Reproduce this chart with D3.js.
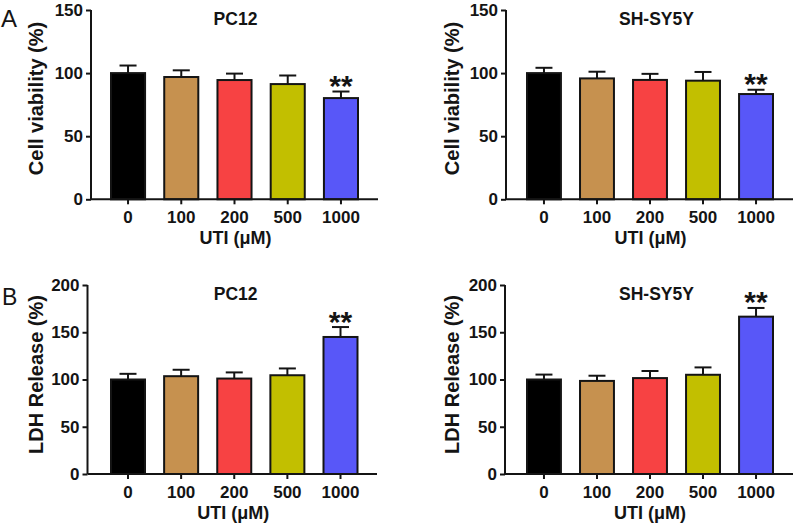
<!DOCTYPE html>
<html>
<head>
<meta charset="utf-8">
<script src="https://cdn.jsdelivr.net/npm/d3@7"></script>
<style>
  html, body { margin: 0; padding: 0; background: #fff; }
  svg { display: block; font-family: "Liberation Sans", Arial, Helvetica, sans-serif; }
</style>
</head>
<body>
<svg id="chart" width="794" height="524"></svg>
<script>
// ---- data ----
const categories = ["0", "100", "200", "500", "1000"];
const barColors = ["#000000", "#C6914F", "#F74243", "#C2BF00", "#5857F8"];

const pc12Viability    = [100, 96.9, 94.5, 91.3, 80.2];
const pc12ViabilityErr = [6.0, 5.3, 5.1, 6.8, 5.2];
const shViability      = [100, 95.8, 94.6, 94.0, 83.4];
const shViabilityErr   = [4.2, 5.3, 4.8, 6.9, 3.4];

const pc12LDH    = [100, 103.5, 101, 104.5, 145];
const pc12LDHErr = [6.0, 6.8, 6.5, 7.2, 10.5];
const shLDH      = [100, 98.5, 101.5, 105, 166.5];
const shLDHErr   = [5.2, 5.5, 7.5, 7.8, 9.2];

const sigMarks = ["", "", "", "", "**"];

const yTicksViability = [0, 50, 100, 150];
const yTicksLDH = [0, 50, 100, 150, 200];

const xTitle = "UTI (μM)";
const yTitleViability = "Cell viability (%)";
const yTitleLDH = "LDH Release (%)";

// ---- layout ----
const svg = d3.select("#chart");
const ink = "#141414";

const panels = [
  { title: "PC12", values: pc12Viability, errs: pc12ViabilityErr, yTicks: yTicksViability, yTitle: yTitleViability,
    axisX: 91, axisEnd: 378, barRange: [111, 358], yTop: 10, yBottom: 199.3, titleX: 235.5, titleY: 25,
    yTitleX: 43, yTitleY: 98.5, xLabY: 223.3, xTitleY: 244 },
  { title: "SH-SY5Y", values: shViability, errs: shViabilityErr, yTicks: yTicksViability, yTitle: yTitleViability,
    axisX: 506, axisEnd: 793, barRange: [527, 773], yTop: 10, yBottom: 199.3, titleX: 656.5, titleY: 25,
    yTitleX: 459, yTitleY: 98.5, xLabY: 223.3, xTitleY: 244 },
  { title: "PC12", values: pc12LDH, errs: pc12LDHErr, yTicks: yTicksLDH, yTitle: yTitleLDH,
    axisX: 87.5, axisEnd: 377, barRange: [111, 357.5], yTop: 285, yBottom: 474, titleX: 235.7, titleY: 300,
    yTitleX: 43, yTitleY: 374.5, xLabY: 498.3, xTitleY: 518.5 },
  { title: "SH-SY5Y", values: shLDH, errs: shLDHErr, yTicks: yTicksLDH, yTitle: yTitleLDH,
    axisX: 505, axisEnd: 793, barRange: [527, 773], yTop: 285, yBottom: 474, titleX: 656.5, titleY: 300,
    yTitleX: 459, yTitleY: 374.5, xLabY: 498.3, xTitleY: 518.5 }
];

panels.forEach(p => {
  const g = svg.append("g");
  const yMax = p.yTicks[p.yTicks.length - 1];
  const y = d3.scaleLinear().domain([0, yMax]).range([p.yBottom, p.yTop]);
  const x = d3.scaleBand().domain(categories).range(p.barRange).paddingInner(0.36).paddingOuter(0);
  const bw = x.bandwidth();

  // bars
  g.selectAll("rect.bar").data(p.values).join("rect")
    .attr("class", "bar")
    .attr("x", (d, i) => x(categories[i]))
    .attr("y", d => y(d))
    .attr("width", bw)
    .attr("height", d => y(0) - y(d))
    .attr("fill", (d, i) => barColors[i])
    .attr("stroke", ink)
    .attr("stroke-width", 2);

  // error bars (upper only)
  p.values.forEach((v, i) => {
    const cx = x(categories[i]) + bw / 2;
    const top = y(v + p.errs[i]);
    g.append("line").attr("x1", cx).attr("x2", cx).attr("y1", y(v)).attr("y2", top)
      .attr("stroke", ink).attr("stroke-width", 2);
    g.append("line").attr("x1", cx - bw / 4).attr("x2", cx + bw / 4).attr("y1", top).attr("y2", top)
      .attr("stroke", ink).attr("stroke-width", 2);
    if (sigMarks[i]) {
      g.append("text").attr("x", cx).attr("y", top + 4.5)
        .attr("text-anchor", "middle").attr("font-size", 30).attr("font-weight", "bold")
        .attr("fill", ink).text(sigMarks[i]);
    }
  });

  // y axis
  const yAxis = d3.axisLeft(y).tickValues(p.yTicks).tickSize(5).tickPadding(3).tickFormat(d3.format("d"));
  const ya = g.append("g").attr("transform", `translate(${p.axisX},0)`).call(yAxis);
  ya.select(".domain").attr("d", `M0,${p.yTop}V${p.yBottom}`);

  // x axis
  const xAxis = d3.axisBottom(x).tickSize(5).tickPadding(3);
  const xa = g.append("g").attr("transform", `translate(0,${p.yBottom})`).call(xAxis);
  xa.select(".domain").attr("d", `M${p.axisX},0H${p.axisEnd}`);
  xa.selectAll(".tick text").attr("dy", null).attr("y", p.xLabY - p.yBottom);

  [ya, xa].forEach(a => {
    a.select(".domain").attr("stroke", ink).attr("stroke-width", 2);
    a.selectAll(".tick line").attr("stroke", ink).attr("stroke-width", 2);
    a.selectAll(".tick text").attr("fill", ink).attr("font-size", 17).attr("font-weight", "bold")
      .attr("font-family", "'Liberation Sans', Arial, sans-serif");
  });

  // titles
  g.append("text").attr("x", p.titleX).attr("y", p.titleY).attr("text-anchor", "middle")
    .attr("font-size", 17.5).attr("font-weight", "bold").attr("fill", ink).text(p.title);
  g.append("text").attr("x", (p.axisX + p.axisEnd) / 2 + 1).attr("y", p.xTitleY).attr("text-anchor", "middle")
    .attr("font-size", 18).attr("font-weight", "bold").attr("fill", ink).text(xTitle);
  g.append("text").attr("transform", `translate(${p.yTitleX},${p.yTitleY}) rotate(-90)`)
    .attr("text-anchor", "middle").attr("font-size", 20).attr("font-weight", "bold")
    .attr("fill", ink).text(p.yTitle);
});

// panel letters
svg.append("text").attr("x", 1).attr("y", 27).attr("font-size", 24).attr("fill", ink).text("A");
svg.append("text").attr("x", 2).attr("y", 305).attr("font-size", 23).attr("fill", ink).text("B");
</script>
</body>
</html>
